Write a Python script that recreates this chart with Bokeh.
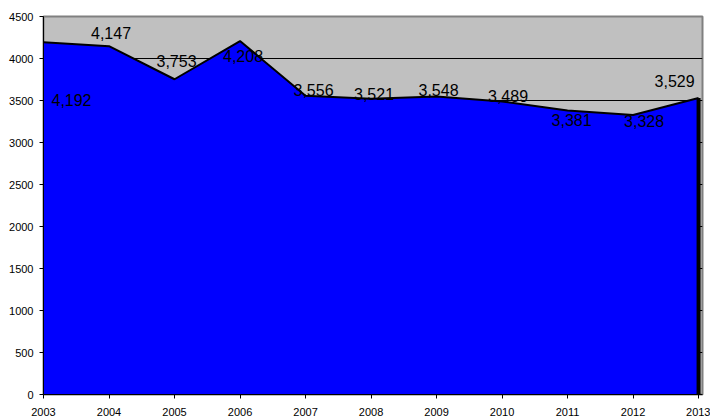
from bokeh.plotting import figure
from bokeh.models import Range1d, FixedTicker, ColumnDataSource
from bokeh.core.properties import value
from bokeh.embed import file_html
from bokeh.resources import INLINE

years = [2003, 2004, 2005, 2006, 2007, 2008, 2009, 2010, 2011, 2012, 2013]
values = [4192, 4147, 3753, 4208, 3556, 3521, 3548, 3489, 3381, 3328, 3529]
labels = ["4,192", "4,147", "3,753", "4,208", "3,556", "3,521", "3,548", "3,489", "3,381", "3,328", "3,529"]
y_ticks = [0, 500, 1000, 1500, 2000, 2500, 3000, 3500, 4000, 4500]

# label placement offsets (pixels)
dx = [28, 2, 2, 3, 8, 3, 2, 6, 4, 11, -24]
dy = [58, -13, -18, 15, -6, -5, -6, -5, 10, 6, -17]

p = figure(width=710, height=419, output_backend="svg", toolbar_location=None,
           x_range=Range1d(2003, 2013.06), y_range=Range1d(0, 4500),
           min_border_left=43, min_border_top=16, min_border_right=8, min_border_bottom=25)

p.background_fill_color = "#C0C0C0"
p.border_fill_color = "white"
p.outline_line_color = "#808080"
p.outline_line_width = 2

p.xgrid.visible = False
p.ygrid.ticker = FixedTicker(ticks=y_ticks)
p.ygrid.grid_line_color = "#000000"
p.ygrid.grid_line_width = 1

src = ColumnDataSource(dict(x=years, y=values, lab=labels, dx=dx, dy=dy))
p.varea(x="x", y1=0, y2="y", source=src, fill_color="#0000FF")
p.line(x="x", y="y", source=src, line_color="black", line_width=2)
p.segment(x0=[years[-1]], y0=[0], x1=[years[-1]], y1=[values[-1]], line_color="black", line_width=4)

p.text(x="x", y="y", text="lab", source=src, x_offset="dx", y_offset="dy",
       text_align="center", text_baseline="middle",
       text_font=value("Liberation Sans"), text_font_size="16px", text_color="black")

p.xaxis.ticker = FixedTicker(ticks=years)
p.yaxis.ticker = FixedTicker(ticks=y_ticks)
for ax in (p.xaxis[0], p.yaxis[0]):
    ax.axis_line_color = "black"
    ax.axis_line_width = 1
    ax.major_tick_line_color = "black"
    ax.major_tick_in = 0
    ax.major_tick_out = 4
    ax.minor_tick_line_color = None
    ax.major_label_text_font = "Liberation Sans"
    ax.major_label_text_font_size = "11px"
    ax.major_label_text_color = "black"
p.xaxis.major_label_standoff = 9
p.yaxis.major_label_standoff = 6

open("out.html", "w").write(file_html(p, INLINE))
